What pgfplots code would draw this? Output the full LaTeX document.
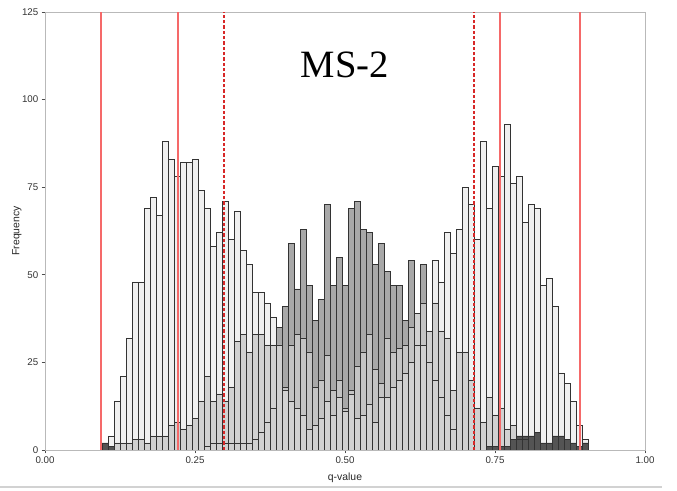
\documentclass[border=0pt]{standalone}
\usepackage{pgfplots}
\pgfplotsset{compat=1.18}
\usepackage{fontspec}
\setmainfont{Liberation Sans}
\newfontfamily\titlefont{Liberation Serif}

\definecolor{fillA}{gray}{0.878}
\definecolor{fillB}{gray}{0.66}
\definecolor{fillC}{gray}{0.77}
\definecolor{fillD}{gray}{0.33}
\definecolor{cutred}{RGB}{245,105,105}
\definecolor{cutdash}{RGB}{215,40,40}

% bin centre / count
\pgfplotstableread{
x y
0.11 4
0.12 14
0.13 21
0.14 32
0.15 48
0.16 48
0.17 69
0.18 72
0.19 67
0.20 88
0.21 83
0.22 78
0.23 82
0.24 82
0.25 83
0.26 74
0.27 69
0.28 58
0.29 62
0.30 71
0.31 60
0.32 68
0.33 57
0.34 53
0.35 45
0.36 45
0.37 42
0.38 38
0.39 30
0.40 17
0.41 14
0.42 12
0.43 10
0.44 6
0.45 7
0.46 9
0.47 14
0.48 10
0.49 15
0.50 11
0.51 16
0.52 9
0.53 10
0.54 13
0.55 8
0.56 15
0.57 15
0.58 18
0.59 20
0.60 22
0.61 25
0.62 39
0.63 30
0.64 34
0.65 54
0.66 48
0.67 62
0.68 56
0.69 63
0.70 75
0.71 70
0.72 60
0.73 88
0.74 69
0.75 81
0.76 78
0.77 93
0.78 76
0.79 78
0.80 65
0.81 70
0.82 69
0.83 47
0.84 49
0.85 41
0.86 22
0.87 19
0.88 14
0.89 7
0.90 3
}\backcross

\pgfplotstableread{
x y
0.27 1
0.28 2
0.29 2
0.30 2
0.31 2
0.32 2
0.33 2
0.34 2
0.35 3
0.36 5
0.37 8
0.38 12
0.39 35
0.40 41
0.41 59
0.42 46
0.43 63
0.44 47
0.45 37
0.46 43
0.47 70
0.48 47
0.49 55
0.50 47
0.51 69
0.52 71
0.53 63
0.54 62
0.55 53
0.56 59
0.57 51
0.58 47
0.59 47
0.60 37
0.61 54
0.62 30
0.63 53
0.64 25
0.65 20
0.66 15
0.67 10
0.68 6
}\fone

\pgfplotstableread{
x y
0.12 2
0.13 2
0.14 2
0.15 3
0.16 3
0.17 2
0.18 4
0.19 4
0.20 4
0.21 7
0.22 8
0.23 6
0.24 7
0.25 9
0.26 14
0.27 21
0.28 14
0.29 16
0.30 14
0.31 18
0.32 31
0.33 33
0.34 28
0.35 33
0.36 33
0.37 30
0.38 30
0.39 30
0.40 18
0.41 30
0.42 33
0.43 32
0.44 28
0.45 18
0.46 20
0.47 27
0.48 17
0.49 20
0.50 12
0.51 17
0.52 24
0.53 28
0.54 33
0.55 23
0.56 19
0.57 32
0.58 28
0.59 29
0.60 30
0.61 35
0.62 39
0.63 42
0.64 34
0.65 42
0.66 34
0.67 32
0.68 17
0.69 28
0.70 28
0.71 20
0.72 12
0.73 8
0.74 15
0.75 10
0.76 12
0.77 6
0.78 7
0.79 3
0.80 3
}\ftwo

\pgfplotstableread{
x y
0.10 2
0.11 1
0.74 1
0.75 1
0.76 1
0.77 1
0.78 3
0.79 4
0.80 4
0.81 4
0.82 5
0.83 2
0.84 2
0.85 4
0.86 4
0.87 3
0.88 2
0.89 1
0.90 2
}\parental

\begin{document}
\begin{tikzpicture}
\path[use as bounding box] (-33.75pt,-30.75pt) rectangle (474pt,337.5pt);
\begin{axis}[
  scale only axis, width=450pt, height=328.5pt,
  xmin=0, xmax=1, ymin=0, ymax=125,
  axis line style={gray!55, line width=0.6pt},
  xtick={0,0.25,0.5,0.75,1}, xticklabels={0.00,0.25,0.50,0.75,1.00},
  ytick={0,25,50,75,100,125},
  tick align=outside, tick pos=left, major tick length=2.5pt,
  tick style={black!70, line width=0.5pt},
  /pgf/number format/assume math mode=true,
  ticklabel style={font=\fontsize{7.3}{8}\selectfont, text=black!80},
  xticklabel style={yshift=1pt},
  yticklabel style={xshift=1pt},
  xlabel={q-value}, ylabel={Frequency},
  label style={font=\fontsize{7.8}{9}\selectfont, text=black!85},
  xlabel style={at={(axis description cs:0.5,0)}, anchor=center, yshift=-21pt},
  ylabel style={at={([xshift=-21pt]axis description cs:0,0.5)}, anchor=center},
  hbar/.style={ybar, bar width=0.01, bar shift=0pt},
  barfill/.style={hbar, draw=none},
  baredge/.style={hbar, fill=none, draw=black!80, line width=0.45pt},
]
% fills, back to front
\addplot[barfill, fill=fillB] table {\fone};
\addplot[barfill, fill=fillC] table {\ftwo};
\addplot[barfill, fill=fillA, fill opacity=0.49] table {\backcross};
\addplot[barfill, fill=fillD] table {\parental};
% outlines of every group stay visible through the fills
\addplot[baredge] table {\backcross};
\addplot[baredge] table {\fone};
\addplot[baredge] table {\ftwo};
\addplot[baredge] table {\parental};

\addplot[cutred, line width=1.5pt] coordinates {(0.093,0) (0.093,125)};
\addplot[cutred, line width=1.5pt] coordinates {(0.221,0) (0.221,125)};
\addplot[cutred, line width=1.5pt] coordinates {(0.758,0) (0.758,125)};
\addplot[cutred, line width=1.5pt] coordinates {(0.892,0) (0.892,125)};
\addplot[cutdash, line width=1.1pt, dash pattern=on 2.4pt off 1.6pt] coordinates {(0.298,0) (0.298,125)};
\addplot[cutdash, line width=1.1pt, dash pattern=on 2.4pt off 1.6pt] coordinates {(0.715,0) (0.715,125)};

\draw[black!75, line width=0.6pt] (axis cs:0,0) -- (axis cs:1,0);
\node[font=\titlefont\fontsize{29}{30}\selectfont] at (axis cs:0.5,110) {MS-2};
\end{axis}
\draw[gray!35, line width=1.3pt] (-33.75pt,-27.75pt) -- (462.75pt,-27.75pt);
\end{tikzpicture}
\end{document}
